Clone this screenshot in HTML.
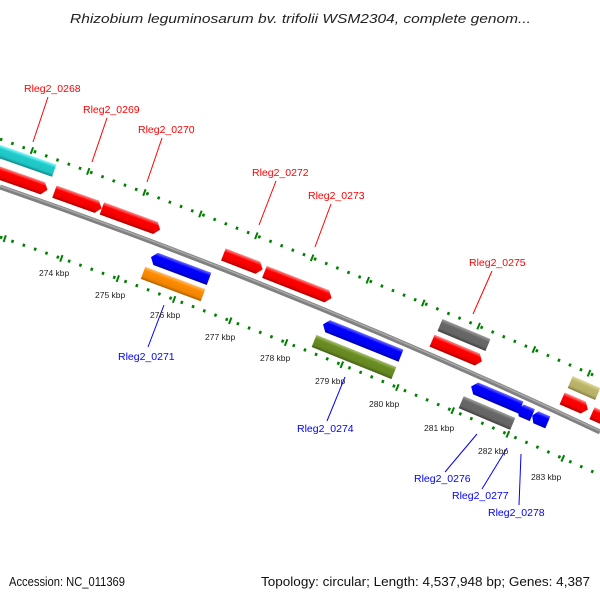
<!DOCTYPE html>
<html><head><meta charset="utf-8"><style>
html,body{margin:0;padding:0;background:#fff;}
svg{display:block;font-family:"Liberation Sans","DejaVu Sans",sans-serif;}
</style></head><body>
<svg width="600" height="600" viewBox="0 0 600 600" xmlns="http://www.w3.org/2000/svg">
<defs>
<linearGradient id="gr" x1="0" y1="0" x2="0" y2="1"><stop offset="0" stop-color="#ff9090"/><stop offset="0.28" stop-color="#ff0000"/><stop offset="0.75" stop-color="#f00000"/><stop offset="1" stop-color="#b00000"/></linearGradient>
<linearGradient id="gc" x1="0" y1="0" x2="0" y2="1"><stop offset="0" stop-color="#90ffff"/><stop offset="0.28" stop-color="#20cccc"/><stop offset="0.75" stop-color="#20c4c4"/><stop offset="1" stop-color="#108888"/></linearGradient>
<linearGradient id="gb" x1="0" y1="0" x2="0" y2="1"><stop offset="0" stop-color="#7070ff"/><stop offset="0.28" stop-color="#0000ff"/><stop offset="0.75" stop-color="#0000f0"/><stop offset="1" stop-color="#0000a0"/></linearGradient>
<linearGradient id="go" x1="0" y1="0" x2="0" y2="1"><stop offset="0" stop-color="#ffc070"/><stop offset="0.28" stop-color="#ff8c00"/><stop offset="0.75" stop-color="#f08400"/><stop offset="1" stop-color="#b06000"/></linearGradient>
<linearGradient id="gg" x1="0" y1="0" x2="0" y2="1"><stop offset="0" stop-color="#a8c070"/><stop offset="0.28" stop-color="#6b8e23"/><stop offset="0.75" stop-color="#658520"/><stop offset="1" stop-color="#45601a"/></linearGradient>
<linearGradient id="gy" x1="0" y1="0" x2="0" y2="1"><stop offset="0" stop-color="#a0a0a0"/><stop offset="0.28" stop-color="#686868"/><stop offset="0.75" stop-color="#646464"/><stop offset="1" stop-color="#404040"/></linearGradient>
<linearGradient id="gk" x1="0" y1="0" x2="0" y2="1"><stop offset="0" stop-color="#e0dca0"/><stop offset="0.28" stop-color="#bdb76b"/><stop offset="0.75" stop-color="#b5af65"/><stop offset="1" stop-color="#858045"/></linearGradient>
</defs>

<text x="70" y="23" font-size="13" font-style="italic" fill="#222" textLength="461" lengthAdjust="spacingAndGlyphs">Rhizobium leguminosarum bv. trifolii WSM2304, complete genom...</text>

<!-- dotted tick lines -->
<path d="M0,139 Q300,247.5 600,378" fill="none" stroke="#008000" stroke-width="3" stroke-dasharray="2.5 9.5"/>
<path d="M0,139 Q300,247.5 600,378" fill="none" stroke="#008000" stroke-width="7" stroke-dasharray="2 58" stroke-dashoffset="-33"/>
<path d="M0,237 Q300,340 600,475" fill="none" stroke="#008000" stroke-width="3" stroke-dasharray="2.5 9.5"/>
<path d="M0,237 Q300,340 600,475" fill="none" stroke="#008000" stroke-width="7" stroke-dasharray="2 58" stroke-dashoffset="-4"/>

<!-- backbone -->
<path d="M0,187 Q300,290.5 600,432" fill="none" stroke="#808080" stroke-width="5"/>
<path d="M0,186 Q300,289.5 600,431" fill="none" stroke="#a8a8a8" stroke-width="1.5"/>

<!-- genes -->
<g transform="translate(24,160) rotate(19.3)"><polygon points="-32,-6.5 32,-6.5 32,6.5 -32,6.5" fill="url(#gc)"/></g>
<g transform="translate(22,181) rotate(19.3)"><polygon points="-27,-6.5 22,-6.5 27,0 22,6.5 -27,6.5" fill="url(#gr)"/></g>
<g transform="translate(78,200) rotate(19.7)"><polygon points="-25,-6.5 20,-6.5 25,0 20,6.5 -25,6.5" fill="url(#gr)"/></g>
<g transform="translate(131,219) rotate(20.1)"><polygon points="-31,-6.5 26,-6.5 31,0 26,6.5 -31,6.5" fill="url(#gr)"/></g>
<g transform="translate(180,268) rotate(20.5)"><polygon points="-26,-6.5 31,-6.5 31,6.5 -26,6.5 -31,0" fill="url(#gb)"/></g>
<g transform="translate(173,284) rotate(20.5)"><polygon points="-32,-6.5 32,-6.5 32,6.5 -32,6.5" fill="url(#go)"/></g>
<g transform="translate(243,262) rotate(21)"><polygon points="-21,-6.5 16,-6.5 21,0 16,6.5 -21,6.5" fill="url(#gr)"/></g>
<g transform="translate(298,285) rotate(21.4)"><polygon points="-36,-6.5 31,-6.5 36,0 31,6.5 -36,6.5" fill="url(#gr)"/></g>
<g transform="translate(362,340) rotate(21.9)"><polygon points="-37,-6.5 42,-6.5 42,6.5 -37,6.5 -42,0" fill="url(#gb)"/></g>
<g transform="translate(354,357) rotate(21.9)"><polygon points="-43,-6.5 43,-6.5 43,6.5 -43,6.5" fill="url(#gg)"/></g>
<g transform="translate(464,335) rotate(22.6)"><polygon points="-26,-6.5 26,-6.5 26,6.5 -26,6.5" fill="url(#gy)"/></g>
<g transform="translate(457,351) rotate(22.6)"><polygon points="-27,-6.5 22,-6.5 27,0 22,6.5 -27,6.5" fill="url(#gr)"/></g>
<g transform="translate(496,397) rotate(22.9)"><polygon points="-22,-6.5 27,-6.5 27,6.5 -22,6.5 -27,0" fill="url(#gb)"/></g>
<g transform="translate(487,413) rotate(22.9)"><polygon points="-28,-6.5 28,-6.5 28,6.5 -28,6.5" fill="url(#gy)"/></g>
<g transform="translate(525,412) rotate(23.1)"><polygon points="-4,-6.5 8,-6.5 8,6.5 -4,6.5 -8,0" fill="url(#gb)"/></g>
<g transform="translate(540,419) rotate(23.1)"><polygon points="-4.5,-6.5 8.5,-6.5 8.5,6.5 -4.5,6.5 -8.5,0" fill="url(#gb)"/></g>
<g transform="translate(584,388) rotate(23.5)"><polygon points="-15,-6.5 15,-6.5 15,6.5 -15,6.5" fill="url(#gk)"/></g>
<g transform="translate(575,404) rotate(23.5)"><polygon points="-14,-6.5 9,-6.5 14,0 9,6.5 -14,6.5" fill="url(#gr)"/></g>
<g transform="translate(603,418) rotate(23.5)"><polygon points="-12,-6.5 7,-6.5 12,0 7,6.5 -12,6.5" fill="url(#gr)"/></g>

<!-- red labels -->
<g stroke="#ff0000" stroke-width="1">
<line x1="48" y1="97" x2="33" y2="142"/>
<line x1="107" y1="118" x2="92" y2="162"/>
<line x1="162" y1="138" x2="147" y2="182"/>
<line x1="276" y1="181" x2="259" y2="225"/>
<line x1="331" y1="204" x2="315" y2="247"/>
<line x1="492" y1="271" x2="473" y2="314"/>
</g>
<g font-size="10.5" fill="#ff0000">
<text x="24" y="92">Rleg2_0268</text>
<text x="83" y="113">Rleg2_0269</text>
<text x="138" y="133">Rleg2_0270</text>
<text x="252" y="176">Rleg2_0272</text>
<text x="308" y="199">Rleg2_0273</text>
<text x="469" y="266">Rleg2_0275</text>
</g>

<!-- blue labels -->
<g stroke="#0000ff" stroke-width="1">
<line x1="148" y1="347" x2="164" y2="305"/>
<line x1="327" y1="421" x2="345" y2="377"/>
<line x1="445" y1="472" x2="477" y2="434"/>
<line x1="482" y1="489" x2="507" y2="448"/>
<line x1="519" y1="505" x2="521" y2="454"/>
</g>
<g font-size="10.5" fill="#0000ff">
<text x="118" y="360">Rleg2_0271</text>
<text x="297" y="432">Rleg2_0274</text>
<text x="414" y="482">Rleg2_0276</text>
<text x="452" y="499">Rleg2_0277</text>
<text x="488" y="516">Rleg2_0278</text>
</g>

<!-- kbp labels -->
<g font-size="8.5" fill="#222">
<text x="39" y="276">274 kbp</text>
<text x="95" y="298">275 kbp</text>
<text x="150" y="318">276 kbp</text>
<text x="205" y="340">277 kbp</text>
<text x="260" y="361">278 kbp</text>
<text x="315" y="384">279 kbp</text>
<text x="369" y="407">280 kbp</text>
<text x="424" y="431">281 kbp</text>
<text x="478" y="454">282 kbp</text>
<text x="531" y="480">283 kbp</text>
</g>

<text x="9" y="586" font-size="13" fill="#111" textLength="116" lengthAdjust="spacingAndGlyphs">Accession: NC_011369</text>
<text x="261" y="586" font-size="13" fill="#111" textLength="329" lengthAdjust="spacingAndGlyphs">Topology: circular; Length: 4,537,948 bp; Genes: 4,387</text>
</svg>
</body></html>
